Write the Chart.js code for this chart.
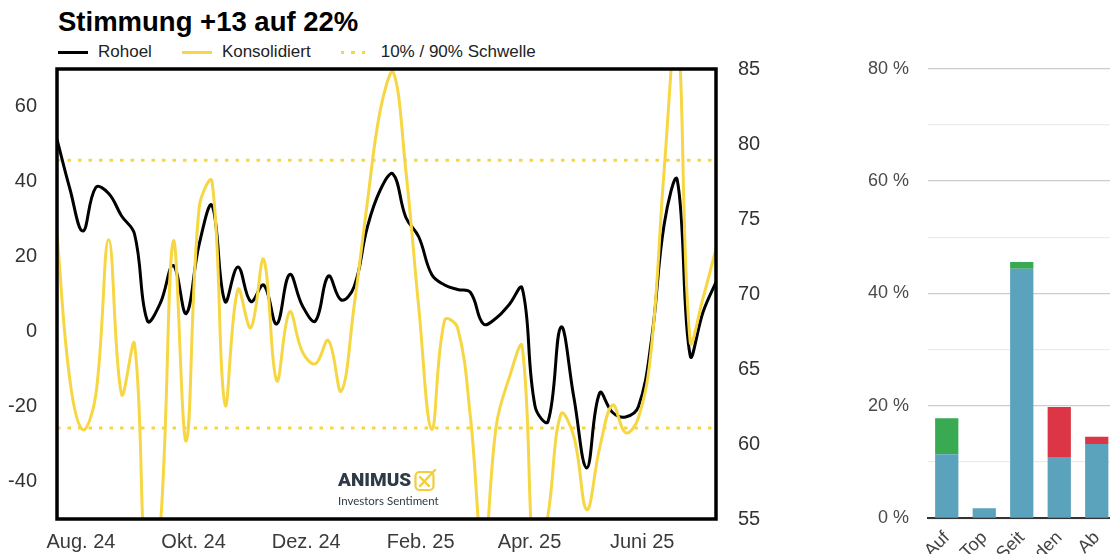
<!DOCTYPE html>
<html lang="de">
<head>
<meta charset="utf-8">
<title>Stimmung Rohoel</title>
<script src="https://cdn.jsdelivr.net/npm/chart.js@4.4.1/dist/chart.umd.min.js"></script>
<style>
    body { margin: 0; background: #fff; overflow: hidden; font-family: "Liberation Sans", Arial, sans-serif; }
    .page { position: relative; width: 1110px; height: 554px; overflow: hidden; }
    .title { position: absolute; left: 58px; top: 8px; font-size: 27.5px; line-height: 28px; font-weight: bold; color: #000; }
    .legend { position: absolute; left: 58px; top: 42px; display: flex; align-items: center; font-size: 17px; line-height: 20px; color: #222; }
    .legend-item { display: flex; align-items: center; margin-right: 30px; }
    .legend-line { width: 30px; height: 3px; margin-right: 10px; }
    .line-black { background: #000; }
    .line-yellow { background: #f6d743; }
    .line-dotted { background: repeating-linear-gradient(to right, #f6d743 0 3.5px, transparent 3.5px 10.5px); }
    #LineChart_sentiment { position: absolute; left: 0; top: 0; }
    #BarChart_phase { position: absolute; left: 840px; top: 0; }
    .logo { position: absolute; left: 338px; top: 468px; color: #2e3b46; }
    .logo-brand { display: flex; align-items: center; font-family: Roboto, "Noto Sans", sans-serif; font-size: 19px; font-weight: 900; line-height: 24px; }
    .logo-brand svg { margin-left: 3px; }
    .logo-sub { font-family: Lato, "Noto Sans", sans-serif; font-size: 11.5px; line-height: 13px; margin-top: 2px; }
</style>
</head>
<body>
<div class="page">
    <div class="title">Stimmung +13 auf 22%</div>
    <div class="legend">
        <div class="legend-item"><span class="legend-line line-black"></span>Rohoel</div>
        <div class="legend-item"><span class="legend-line line-yellow"></span>Konsolidiert</div>
        <div class="legend-item"><span class="legend-line line-dotted"></span>10% / 90% Schwelle</div>
    </div>

    <canvas id="LineChart_sentiment" width="790" height="554"></canvas>
    <canvas id="BarChart_phase" width="290" height="620"></canvas>

    <div class="logo">
        <div class="logo-brand">ANIMUS
            <svg width="24" height="24" viewBox="0 0 24 24">
                <rect x="1.5" y="4" width="18" height="18" rx="4" fill="none" stroke="#f2cd3a" stroke-width="2.2"/>
                <line x1="6" y1="9" x2="15" y2="18" stroke="#f2cd3a" stroke-width="2.4" stroke-linecap="round"/>
                <line x1="6" y1="18" x2="21" y2="2" stroke="#f2cd3a" stroke-width="2.4" stroke-linecap="round"/>
            </svg>
        </div>
        <div class="logo-sub">Investors Sentiment</div>
    </div>
</div>

<script>
// weekly values, first week 19.07.2024
const startDate = '2024-07-19';

// Rohoel price (right axis)
const rohoel = [80.3, 77.0, 74.2, 77.1, 76.7, 75.2, 74.0, 68.2, 69.4, 71.9,
    68.7, 73.3, 75.9, 69.5, 71.8, 69.5, 70.6, 68.0, 71.3, 69.2,
    68.2, 71.2, 69.6, 70.5, 74.4, 76.9, 78.0, 75.1, 73.8, 71.3,
    70.6, 70.3, 70.1, 68.0, 68.4, 69.3, 70.4, 62.5, 61.5, 67.8,
    63.1, 58.4, 63.4, 62.1, 61.8, 62.5, 66.9, 74.7, 77.6, 65.9,
    68.8, 70.8];

// consolidated sentiment (left axis)
const konsolidiert = [25.9, -13, -26.2, -17, 24.5, -16.8, -3.3, -70, -52, 24.1,
    -29.2, 33, 40, -19.5, 11.2, 1.0, 19.2, -13.1, 5.2, -5.5,
    -8.6, -2.4, -15.9, 7, 33.9, 58.7, 69.4, 42.8, 6.3, -26.1,
    3, 1, -23, -60, -25, -12.3, -4, -65, -49, -22,
    -28, -47.5, -31, -19.6, -27, -23, -4.4, 43.6, 82, -2.6,
    9, 22];

// 90% / 10% thresholds
const schwelleOben = 45.7;
const schwelleUnten = -25.7;

const monthStarts = ['2024-08-01', '2024-10-01', '2024-12-01', '2025-02-01', '2025-04-01', '2025-06-01'];
const monthLabels = ['Aug. 24', 'Okt. 24', 'Dez. 24', 'Feb. 25', 'Apr. 25', 'Juni 25'];
const ticksLeft = [-40, -20, 0, 20, 40, 60];
const ticksRight = [55, 60, 65, 70, 75, 80, 85];

// phase distribution (right chart)
const phaseLabels = ['Auf', 'Top', 'Seit', 'Boden', 'Ab'];
const anteilBasis = [11.4, 1.8, 44.4, 10.9, 13.2];
const anteilPlus = [6.4, 0, 1.2, 0, 0];
const anteilMinus = [0, 0, 0, 8.9, 1.3];

const fontFamily = '"Liberation Sans", Arial, sans-serif';
const colorYellow = '#f6d743';

function weekPos(dateStr) {
    return (Date.parse(dateStr) - Date.parse(startDate)) / (7 * 86400000);
}

function toPoints(values) {
    return values.map((v, i) => ({x: i, y: v}));
}

function thresholdLine(value) {
    return {
        data: [{x: 0, y: value}, {x: rohoel.length - 1, y: value}],
        yAxisID: 'y',
        borderColor: colorYellow,
        borderWidth: 3,
        borderDash: [3.5, 7],
        pointRadius: 0,
        tension: 0,
        clip: 0,
        order: 3
    };
}

// black frame around the plot area
const plotFrame = {
    id: 'plotFrame',
    afterDatasetsDraw(chart) {
        const {ctx, chartArea: a} = chart;
        ctx.save();
        ctx.strokeStyle = '#000';
        ctx.lineWidth = 3.5;
        ctx.strokeRect(a.left, a.top, a.right - a.left, a.bottom - a.top);
        ctx.restore();
    }
};

function LineChart_sentiment() {
    const ctx = document.getElementById('LineChart_sentiment').getContext('2d');
    new Chart(ctx, {
        type: 'line',
        data: {
            datasets: [
                {
                    label: 'Konsolidiert',
                    data: toPoints(konsolidiert),
                    yAxisID: 'y',
                    borderColor: colorYellow,
                    borderWidth: 3,
                    pointRadius: 0,
                    tension: 0.4,
                    clip: 0,
                    order: 1
                },
                {
                    label: 'Rohoel',
                    data: toPoints(rohoel),
                    yAxisID: 'yPrice',
                    borderColor: '#000',
                    borderWidth: 3,
                    pointRadius: 0,
                    tension: 0.4,
                    clip: 0,
                    order: 2
                },
                thresholdLine(schwelleOben),
                thresholdLine(schwelleUnten)
            ]
        },
        options: {
            responsive: false,
            animation: false,
            layout: {padding: {top: 69}},
            plugins: {
                legend: {display: false},
                tooltip: {enabled: false}
            },
            scales: {
                x: {
                    type: 'linear',
                    min: 0,
                    max: rohoel.length - 1,
                    grid: {display: false, drawTicks: false},
                    border: {display: false},
                    afterBuildTicks: s => { s.ticks = monthStarts.map(d => ({value: weekPos(d)})); },
                    afterFit: s => { s.height = 35; },
                    ticks: {
                        autoSkip: false,
                        maxRotation: 0,
                        padding: 11,
                        color: '#3a3a3a',
                        font: {size: 20, family: fontFamily},
                        callback: (value, index) => monthLabels[index]
                    }
                },
                y: {
                    position: 'left',
                    min: -50,
                    max: 70,
                    grid: {display: false, drawTicks: false},
                    border: {display: false},
                    afterBuildTicks: s => { s.ticks = ticksLeft.map(v => ({value: v})); },
                    afterFit: s => { s.width = 57; },
                    ticks: {padding: 20, color: '#333', font: {size: 20, family: fontFamily}}
                },
                yPrice: {
                    position: 'right',
                    min: 55,
                    max: 85,
                    grid: {display: false, drawTicks: false},
                    border: {display: false},
                    afterBuildTicks: s => { s.ticks = ticksRight.map(v => ({value: v})); },
                    afterFit: s => { s.width = 74; },
                    ticks: {padding: 22, color: '#333', font: {size: 20, family: fontFamily}}
                }
            }
        },
        plugins: [plotFrame]
    });
}

function BarChart_phase() {
    const ctx = document.getElementById('BarChart_phase').getContext('2d');
    const bar = (data, color) => ({data: data, backgroundColor: color, borderWidth: 0});
    new Chart(ctx, {
        type: 'bar',
        data: {
            labels: phaseLabels,
            datasets: [
                bar(anteilBasis, '#5ba2bc'),
                bar(anteilPlus, '#3aaa52'),
                bar(anteilMinus, '#dc3545')
            ]
        },
        options: {
            responsive: false,
            animation: false,
            layout: {padding: {top: 68.7, right: 14.5}},
            datasets: {bar: {categoryPercentage: 1, barPercentage: 0.62}},
            plugins: {
                legend: {display: false},
                tooltip: {enabled: false}
            },
            scales: {
                x: {
                    stacked: true,
                    grid: {display: false, drawTicks: false},
                    border: {color: '#333', width: 2},
                    afterFit: s => { s.height = 101.7; },
                    ticks: {
                        minRotation: 45,
                        maxRotation: 45,
                        padding: 9,
                        color: '#444',
                        font: {size: 18, family: fontFamily}
                    }
                },
                y: {
                    stacked: true,
                    min: 0,
                    max: 80,
                    border: {display: false},
                    grid: {
                        drawTicks: false,
                        lineWidth: 1.3,
                        color: c => c.tick.value % 20 === 0 ? '#cccccc' : '#ececec'
                    },
                    afterFit: s => { s.width = 88; },
                    ticks: {
                        stepSize: 10,
                        padding: 19,
                        color: '#4a4a4a',
                        font: {size: 18, family: fontFamily},
                        callback: v => v % 20 === 0 ? v + ' %' : ''
                    }
                }
            }
        }
    });
}

LineChart_sentiment();
BarChart_phase();
</script>
</body>
</html>
